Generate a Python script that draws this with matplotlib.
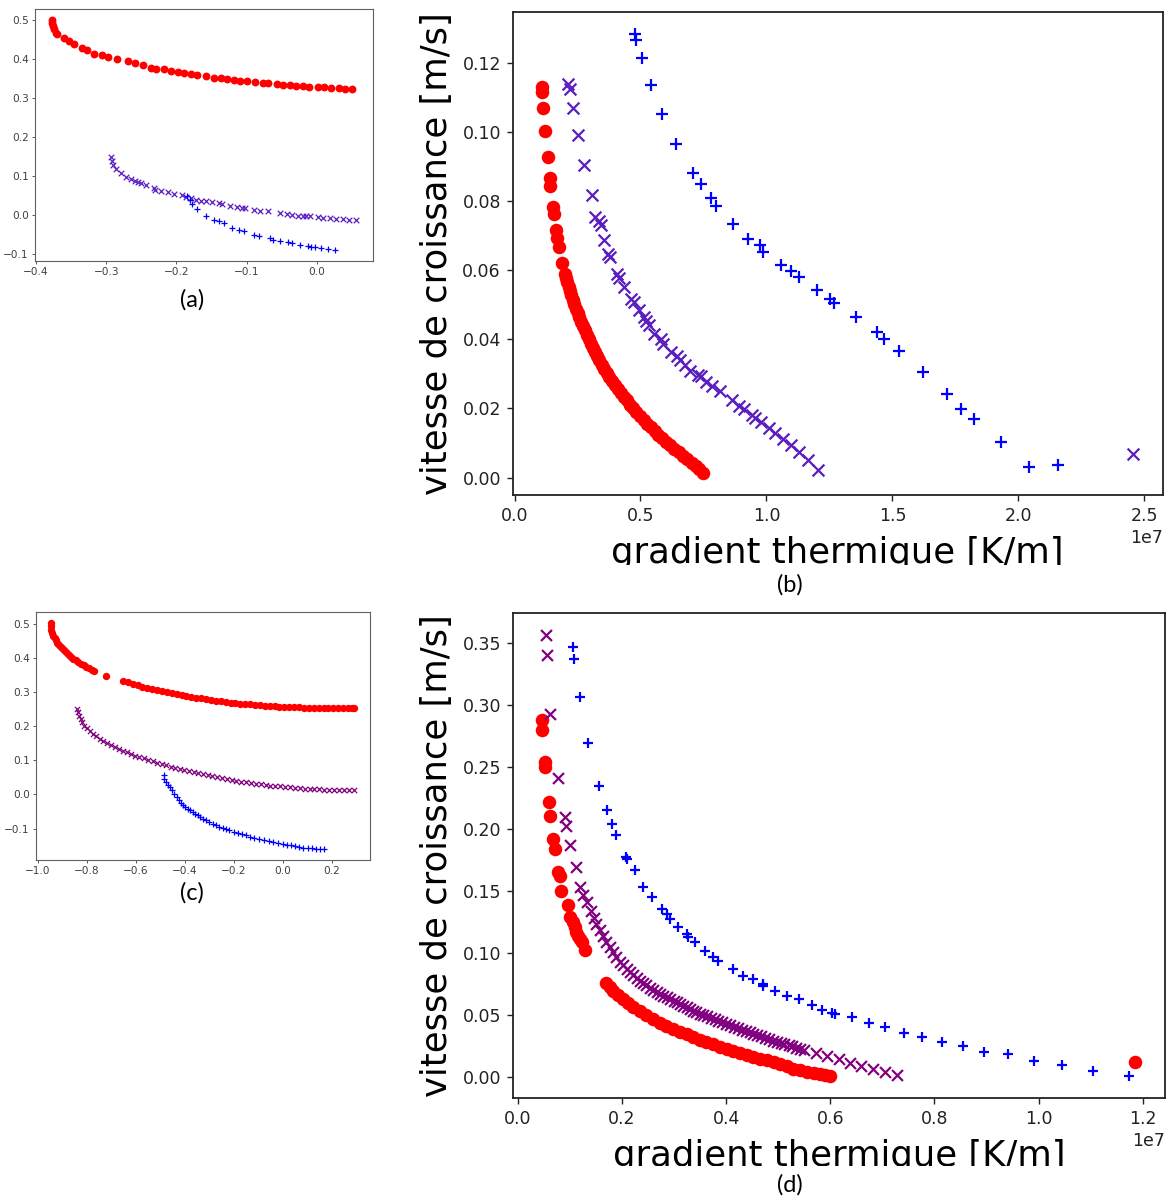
import numpy as np
import matplotlib
matplotlib.use("Agg")
import matplotlib.pyplot as plt
from matplotlib.patches import Rectangle

# ---------------- panel (a) ----------------
a_red_x = [-0.3775, -0.3770, -0.3760, -0.374, -0.3718, -0.3695, -0.360, -0.353, -0.346, -0.334,
           -0.327, -0.318, -0.306, -0.297, -0.285, -0.269, -0.259, -0.247, -0.236, -0.229,
           -0.217, -0.208, -0.198, -0.189, -0.179, -0.170, -0.158, -0.146, -0.137, -0.128,
           -0.118, -0.109, -0.0995, -0.088, -0.076, -0.069, -0.057, -0.048, -0.0385, -0.029,
           -0.0197, -0.0103, 0.0014, 0.0108, 0.020, 0.032, 0.041, 0.0507]
a_red_y = [0.500, 0.494, 0.486, 0.477, 0.469, 0.464, 0.456, 0.447, 0.440, 0.430,
           0.423, 0.415, 0.411, 0.406, 0.400, 0.396, 0.392, 0.385, 0.379, 0.376,
           0.375, 0.370, 0.368, 0.364, 0.362, 0.360, 0.358, 0.353, 0.352, 0.349,
           0.347, 0.345, 0.344, 0.342, 0.340, 0.339, 0.337, 0.335, 0.334, 0.332,
           0.331, 0.330, 0.329, 0.329, 0.328, 0.326, 0.325, 0.325]
a_pur_x = [-0.2935, -0.2916, -0.2902, -0.2855, -0.2784, -0.2714, -0.2643, -0.2596, -0.2549, -0.2502,
           -0.2431, -0.2313, -0.2304, -0.2219, -0.2125, -0.2031, -0.1913, -0.1866, -0.1795, -0.1724,
           -0.1654, -0.1583, -0.1489, -0.1395, -0.1347, -0.1230, -0.1135, -0.1065, -0.1018, -0.0900,
           -0.0806, -0.0688, -0.0523, -0.0429, -0.0358, -0.0264, -0.0193, -0.0146, -0.0099, 0.0019,
           0.0090, 0.0184, 0.0278, 0.0372, 0.0466, 0.0561]
a_pur_y = [0.1488, 0.1385, 0.1300, 0.1189, 0.1078, 0.0993, 0.0933, 0.0891, 0.0848, 0.0823,
           0.0780, 0.0703, 0.0661, 0.0635, 0.0593, 0.0550, 0.0524, 0.0482, 0.0448, 0.0396,
           0.0379, 0.0362, 0.0337, 0.0311, 0.0294, 0.0252, 0.0209, 0.0192, 0.0192, 0.0149,
           0.0124, 0.0107, 0.0056, 0.0038, 0.0021, -0.0004, -0.0004, -0.0021, -0.0004, -0.0047,
           -0.0064, -0.0072, -0.0098, -0.0098, -0.0107, -0.0115]
a_blue_x = [-0.1842, -0.1809, -0.1771, -0.1701, -0.1583, -0.1465, -0.1395, -0.1324, -0.1206, -0.1112,
            -0.1041, -0.0900, -0.0829, -0.0664, -0.0617, -0.0523, -0.0405, -0.0358, -0.0240, -0.0122,
            -0.0075, -0.0028, 0.0067, 0.0161, 0.0255]
a_blue_y = [0.0507, 0.0396, 0.0294, 0.0166, -0.0004, -0.0115, -0.0149, -0.0200, -0.0320, -0.0371,
            -0.0405, -0.0499, -0.0516, -0.0584, -0.0618, -0.0644, -0.0686, -0.0712, -0.0755, -0.0789,
            -0.0797, -0.0814, -0.0831, -0.0857, -0.0874]

# ---------------- panel (b) (x in units of 1e7 K/m) ----------------
b_red_x = [0.110, 0.110, 0.115, 0.121, 0.132, 0.141, 0.142, 0.151, 0.155, 0.163, 0.168, 0.178, 0.190,
           0.200, 0.205, 0.210, 0.215, 0.220, 0.226, 0.232, 0.238, 0.244, 0.250, 0.257, 0.264,
           0.271, 0.278, 0.286, 0.294, 0.302, 0.310, 0.319, 0.328, 0.337, 0.346, 0.356, 0.366,
           0.376, 0.387, 0.398, 0.409, 0.421, 0.433, 0.445, 0.458, 0.471, 0.484, 0.498, 0.512,
           0.526, 0.541, 0.556, 0.571, 0.587, 0.603, 0.619, 0.635, 0.652, 0.669, 0.686, 0.703,
           0.719, 0.734, 0.748]
b_red_y = [0.1131, 0.1117, 0.1071, 0.1002, 0.0928, 0.0868, 0.0845, 0.0784, 0.0762, 0.0717, 0.0693, 0.0666, 0.0622,
           0.0590, 0.0578, 0.0566, 0.0553, 0.0541, 0.0528, 0.0515, 0.0502, 0.0489, 0.0477, 0.0464, 0.0451,
           0.0438, 0.0426, 0.0413, 0.0400, 0.0388, 0.0376, 0.0363, 0.0351, 0.0339, 0.0327, 0.0315, 0.0303,
           0.0291, 0.0280, 0.0268, 0.0257, 0.0245, 0.0234, 0.0223, 0.0211, 0.0200, 0.0189, 0.0178, 0.0167,
           0.0156, 0.0145, 0.0135, 0.0124, 0.0114, 0.0103, 0.0093, 0.0083, 0.0073, 0.0063, 0.0053, 0.0043,
           0.0034, 0.0024, 0.0013]
b_pur_x = [0.212, 0.222, 0.232, 0.252, 0.275, 0.306, 0.321, 0.335, 0.342, 0.354, 0.372, 0.380,
           0.406, 0.415, 0.435, 0.464, 0.474, 0.493, 0.513, 0.522, 0.532, 0.555, 0.581, 0.590,
           0.620, 0.645, 0.658, 0.678, 0.697, 0.727, 0.742, 0.762, 0.785, 0.814, 0.863, 0.892,
           0.911, 0.941, 0.956, 0.979, 1.009, 1.034, 1.067, 1.096, 1.131, 1.164, 1.206, 2.455]
b_pur_y = [0.1139, 0.1124, 0.1071, 0.0992, 0.0906, 0.0817, 0.0754, 0.0742, 0.0730, 0.0688, 0.0648, 0.0638,
           0.0590, 0.0579, 0.0553, 0.0518, 0.0507, 0.0484, 0.0465, 0.0454, 0.0441, 0.0415, 0.0401, 0.0386,
           0.0362, 0.0351, 0.0341, 0.0325, 0.0309, 0.0298, 0.0293, 0.0277, 0.0266, 0.0250, 0.0224, 0.0208,
           0.0197, 0.0181, 0.0171, 0.0160, 0.0144, 0.0128, 0.0112, 0.0093, 0.0075, 0.0051, 0.0022, 0.0068]
b_blue_x = [0.478, 0.482, 0.505, 0.542, 0.587, 0.640, 0.708, 0.740, 0.781, 0.798, 0.866, 0.928,
            0.973, 0.988, 1.056, 1.099, 1.128, 1.200, 1.251, 1.270, 1.356, 1.440, 1.465, 1.527,
            1.621, 1.718, 1.774, 1.823, 1.932, 2.043, 2.156]
b_blue_y = [0.1285, 0.1268, 0.1215, 0.1136, 0.1052, 0.0966, 0.0883, 0.0849, 0.0810, 0.0786, 0.0733, 0.0691,
            0.0672, 0.0654, 0.0616, 0.0597, 0.0581, 0.0542, 0.0518, 0.0505, 0.0465, 0.0420, 0.0401, 0.0367,
            0.0306, 0.0242, 0.0197, 0.0170, 0.0102, 0.0030, 0.0035]

# ---------------- panel (c) ----------------
c_red_x = [-0.946, -0.946, -0.945, -0.941, -0.937, -0.932, -0.927, -0.921, -0.914, -0.907, -0.899, -0.891,
           -0.883, -0.874, -0.864, -0.855, -0.845, -0.835, -0.824, -0.813, -0.802, -0.791, -0.780, -0.769,
           -0.721,
           -0.653, -0.633, -0.613, -0.593, -0.573, -0.553, -0.533, -0.513, -0.493, -0.473, -0.453, -0.433,
           -0.413, -0.393, -0.373, -0.353, -0.333, -0.313, -0.293, -0.273, -0.253, -0.233, -0.213, -0.193,
           -0.173, -0.153, -0.133, -0.113, -0.093, -0.073, -0.053, -0.033, -0.013, 0.007, 0.027, 0.047,
           0.067, 0.087, 0.107, 0.127, 0.147, 0.167, 0.187, 0.207, 0.227, 0.247, 0.267, 0.283, 0.293]
c_red_y = [0.503, 0.494, 0.484, 0.475, 0.467, 0.460, 0.453, 0.446, 0.440, 0.434, 0.427, 0.421,
           0.415, 0.410, 0.404, 0.399, 0.394, 0.389, 0.384, 0.379, 0.375, 0.371, 0.367, 0.364,
           0.347,
           0.334, 0.329, 0.325, 0.321, 0.317, 0.313, 0.310, 0.306, 0.303, 0.300, 0.297, 0.294,
           0.292, 0.289, 0.287, 0.284, 0.282, 0.280, 0.278, 0.276, 0.274, 0.272, 0.270, 0.269,
           0.267, 0.266, 0.265, 0.263, 0.262, 0.261, 0.260, 0.259, 0.258, 0.258, 0.257, 0.256,
           0.256, 0.255, 0.255, 0.254, 0.254, 0.254, 0.253, 0.253, 0.253, 0.253, 0.254, 0.254, 0.254]
c_pur_x = [-0.840, -0.836, -0.831, -0.826, -0.819, -0.810, -0.800, -0.789, -0.776, -0.762, -0.748, -0.733,
           -0.718, -0.702, -0.686, -0.670, -0.653, -0.636, -0.619, -0.602, -0.585, -0.567, -0.549, -0.531,
           -0.513, -0.495, -0.477, -0.458, -0.440, -0.421, -0.402, -0.383, -0.364, -0.345, -0.326, -0.307,
           -0.287, -0.268, -0.248, -0.229, -0.209, -0.189, -0.170, -0.150, -0.130, -0.110, -0.090, -0.070,
           -0.050, -0.030, -0.010, 0.010, 0.030, 0.050, 0.070, 0.090, 0.110, 0.130, 0.150, 0.170,
           0.190, 0.210, 0.230, 0.250, 0.270, 0.292]
c_pur_y = [0.252, 0.242, 0.232, 0.222, 0.212, 0.202, 0.194, 0.186, 0.178, 0.171, 0.164, 0.157,
           0.151, 0.145, 0.139, 0.134, 0.129, 0.124, 0.119, 0.114, 0.110, 0.106, 0.101, 0.097,
           0.093, 0.089, 0.086, 0.082, 0.078, 0.075, 0.071, 0.068, 0.065, 0.062, 0.059, 0.056,
           0.053, 0.050, 0.047, 0.045, 0.042, 0.040, 0.038, 0.036, 0.034, 0.032, 0.030, 0.028,
           0.026, 0.025, 0.024, 0.022, 0.021, 0.020, 0.019, 0.017, 0.016, 0.016, 0.015, 0.014,
           0.014, 0.013, 0.013, 0.013, 0.013, 0.013]
c_blue_x = [-0.483, -0.483, -0.4762, -0.4680, -0.4599, -0.4510, -0.4422, -0.4330, -0.4245, -0.4160,
            -0.4082, -0.3980, -0.3878, -0.3775, -0.3673, -0.3570, -0.3469, -0.3365, -0.3265, -0.3130,
            -0.2993, -0.2857, -0.2721, -0.2585, -0.2449, -0.2313, -0.2177, -0.2007, -0.1837, -0.1667,
            -0.1497, -0.1327, -0.1156, -0.0952, -0.0748, -0.0578, -0.0408, -0.0204, 0.0000, 0.0170,
            0.0340, 0.0510, 0.0680, 0.0850, 0.1020, 0.1190, 0.1361, 0.1531, 0.1701]
c_blue_y = [0.0558, 0.0450, 0.0362, 0.0290, 0.0216, 0.0118, 0.0020, -0.0080, -0.0176, -0.0250,
            -0.0322, -0.0371, -0.0420, -0.0470, -0.0518, -0.0567, -0.0616, -0.0665, -0.0714, -0.0763,
            -0.0812, -0.0860, -0.0909, -0.0944, -0.0978, -0.1017, -0.1056, -0.1095, -0.1134, -0.1168,
            -0.1203, -0.1237, -0.1272, -0.1311, -0.1350, -0.1375, -0.1399, -0.1433, -0.1467, -0.1482,
            -0.1496, -0.1520, -0.1545, -0.1560, -0.1575, -0.1585, -0.1594, -0.1594, -0.1594]

# ---------------- panel (d) (x in units of 1e7 K/m) ----------------
d_red_x = [0.047, 0.047, 0.052, 0.053, 0.059, 0.062, 0.068, 0.071, 0.077, 0.080, 0.0835, 0.0963,
           0.1008, 0.105, 0.109, 0.112, 0.1155, 0.120, 0.124, 0.1284,
           0.169, 0.176, 0.183, 0.192, 0.202, 0.211, 0.221, 0.234, 0.247, 0.260, 0.273, 0.285,
           0.298, 0.311, 0.324, 0.337, 0.350, 0.362, 0.375, 0.388, 0.401, 0.414, 0.427, 0.440,
           0.452, 0.465, 0.478, 0.491, 0.504, 0.517, 0.529, 0.542, 0.555, 0.568, 0.581, 0.590,
           0.600, 1.186]
d_red_y = [0.2877, 0.2799, 0.2538, 0.2500, 0.2217, 0.2107, 0.1918, 0.1840, 0.1651, 0.1620, 0.1500, 0.1390,
           0.1293, 0.1250, 0.1207, 0.1170, 0.1140, 0.1110, 0.1086, 0.1025,
           0.0756, 0.0725, 0.0697, 0.0663, 0.0631, 0.0597, 0.0563, 0.0529, 0.0496, 0.0465, 0.0435, 0.0412,
           0.0389, 0.0366, 0.0343, 0.0322, 0.0301, 0.0282, 0.0263, 0.0245, 0.0228, 0.0212, 0.0196, 0.0178,
           0.0161, 0.0147, 0.0134, 0.0118, 0.0102, 0.0085, 0.0068, 0.0054, 0.0040, 0.0031, 0.0022, 0.0016,
           0.0011, 0.0118]
d_pur_x = [0.0533, 0.0552, 0.0623, 0.0777, 0.090, 0.092, 0.0995, 0.112,
           0.120, 0.126, 0.133, 0.140, 0.146, 0.151, 0.157, 0.163, 0.170, 0.176, 0.183, 0.189,
           0.196, 0.202, 0.209, 0.215, 0.222, 0.228, 0.234, 0.241, 0.247, 0.254, 0.260, 0.267,
           0.273, 0.279, 0.286, 0.292, 0.299, 0.305, 0.311, 0.318, 0.324, 0.331, 0.337, 0.343,
           0.350, 0.356, 0.363, 0.370, 0.378, 0.385, 0.393, 0.400, 0.408, 0.415, 0.423, 0.430,
           0.438, 0.445, 0.452, 0.460, 0.467, 0.475, 0.482, 0.490, 0.497, 0.505, 0.512, 0.520,
           0.527, 0.535, 0.542, 0.550, 0.572, 0.594, 0.616, 0.638, 0.660, 0.682, 0.705, 0.728]
d_pur_y = [0.3562, 0.3400, 0.2931, 0.2414, 0.2097, 0.2028, 0.1871, 0.1692,
           0.1530, 0.1470, 0.1408, 0.1340, 0.1285, 0.1234, 0.1185, 0.1135, 0.1086, 0.1047, 0.1005, 0.0965,
           0.0930, 0.0900, 0.0870, 0.0845, 0.0820, 0.0800, 0.0778, 0.0757, 0.0738, 0.0720, 0.0703, 0.0686,
           0.0670, 0.0657, 0.0644, 0.0630, 0.0616, 0.0602, 0.0589, 0.0576, 0.0563, 0.0549, 0.0536, 0.0524,
           0.0512, 0.0500, 0.0488, 0.0476, 0.0464, 0.0452, 0.0440, 0.0428, 0.0416, 0.0405, 0.0394, 0.0383,
           0.0372, 0.0360, 0.0349, 0.0338, 0.0327, 0.0316, 0.0305, 0.0293, 0.0282, 0.0273, 0.0264, 0.0255,
           0.0246, 0.0237, 0.0228, 0.0219, 0.0193, 0.0168, 0.0142, 0.0116, 0.0090, 0.0063, 0.0038, 0.0014]
d_blue_x = [0.1059, 0.1085, 0.1188, 0.1355, 0.156, 0.171, 0.181, 0.189, 0.208, 0.210, 0.225, 0.2406,
            0.2568, 0.2760, 0.2857, 0.2920, 0.3080, 0.3242, 0.3272, 0.3401, 0.3594, 0.3754, 0.3850, 0.4139,
            0.4331, 0.4524, 0.4716, 0.4716, 0.4941, 0.5167, 0.5390, 0.5648, 0.5840, 0.6033, 0.6096, 0.6418,
            0.6737, 0.7059, 0.741, 0.776, 0.815, 0.855, 0.895, 0.941, 0.991, 1.045, 1.104, 1.173]
d_blue_y = [0.3465, 0.3371, 0.3063, 0.2695, 0.2347, 0.2154, 0.2044, 0.1950, 0.1777, 0.1761, 0.1667, 0.1529,
            0.1448, 0.1355, 0.1315, 0.1274, 0.1207, 0.1154, 0.1126, 0.1086, 0.1019, 0.0965, 0.0939, 0.0872,
            0.0818, 0.0792, 0.0751, 0.0730, 0.0697, 0.0657, 0.0631, 0.0577, 0.0537, 0.0515, 0.0510, 0.0483,
            0.0435, 0.0402, 0.0355, 0.0321, 0.0283, 0.0252, 0.0204, 0.0182, 0.0132, 0.0094, 0.0047, 0.0006]

X_SCALE = 1e7
PURPLE_AB = '#5a1ec0'
PURPLE_CD = '#800080'
XLABEL = 'gradient thermique [K/m]'
YLABEL = 'vitesse de croissance [m/s]'

W, H = 1169, 1200
fig = plt.figure(figsize=(W / 100, H / 100), dpi=100)
fig.patch.set_facecolor('white')


def rect(l, t, r, b):
    return [l / W, 1 - b / H, (r - l) / W, (b - t) / H]


def style_small(ax):
    for sp in ax.spines.values():
        sp.set_color('#606060')
        sp.set_linewidth(0.8)
    ax.tick_params(labelsize=7.6, length=2.5, width=0.6, colors='#404040', pad=2)


def style_big(ax):
    for sp in ax.spines.values():
        sp.set_color('#222222')
        sp.set_linewidth(1.3)
    ax.tick_params(labelsize=12.5, length=4.5, width=1.0, colors='#222222', pad=4)
    ax.xaxis.get_offset_text().set_fontsize(12.5)


# (a)
axa = fig.add_axes(rect(35, 9, 372.5, 261))
axa.scatter(a_red_x, a_red_y, s=32, c='red', marker='o', linewidths=0)
axa.scatter(a_pur_x, a_pur_y, s=16, c=PURPLE_AB, marker='x', linewidths=0.9)
axa.scatter(a_blue_x, a_blue_y, s=16, c='blue', marker='+', linewidths=0.9)
axa.set_xlim(-0.4015, 0.0795)
style_small(axa)

# (c)
axc = fig.add_axes(rect(36, 612, 369.5, 860))
axc.scatter(c_red_x, c_red_y, s=28, c='red', marker='o', linewidths=0)
axc.scatter(c_pur_x, c_pur_y, s=14, c=PURPLE_CD, marker='x', linewidths=0.9)
axc.scatter(c_blue_x, c_blue_y, s=14, c='blue', marker='+', linewidths=0.9)
style_small(axc)

# (b)
axb = fig.add_axes(rect(512.7, 11.7, 1162.5, 495))
axb.scatter(np.array(b_red_x) * X_SCALE, b_red_y, s=95, c='red', marker='o', linewidths=0)
axb.scatter(np.array(b_pur_x) * X_SCALE, b_pur_y, s=72, c=PURPLE_AB, marker='x', linewidths=1.6)
axb.scatter(np.array(b_blue_x) * X_SCALE, b_blue_y, s=65, c='blue', marker='+', linewidths=1.6)
style_big(axb)
axb.set_xlabel(XLABEL, fontsize=25.5, labelpad=8)
axb.set_ylabel(YLABEL, fontsize=25.5, labelpad=6)

# (d)
axd = fig.add_axes(rect(512.7, 613.3, 1165, 1098.3))
axd.scatter(np.array(d_red_x) * X_SCALE, d_red_y, s=95, c='red', marker='o', linewidths=0)
axd.scatter(np.array(d_pur_x) * X_SCALE, d_pur_y, s=62, c=PURPLE_CD, marker='x', linewidths=1.6)
axd.scatter(np.array(d_blue_x) * X_SCALE, d_blue_y, s=62, c='blue', marker='+', linewidths=1.6)
style_big(axd)
axd.set_xlabel(XLABEL, fontsize=25.5, labelpad=8)
axd.set_ylabel(YLABEL, fontsize=25.5, labelpad=6)

# white bands that crop the bottom of the big x-labels, as in the reference
for top, bot in [(565, 600), (1166, 1200)]:
    fig.add_artist(Rectangle((585 / W, 1 - bot / H), 510 / W, (bot - top) / H,
                             transform=fig.transFigure, facecolor='white',
                             edgecolor='none', zorder=5))

# panel captions
for lab, xc, yc in [('(a)', 192, 300), ('(b)', 790, 585), ('(c)', 192, 893), ('(d)', 790, 1185)]:
    fig.text(xc / W, 1 - yc / H, lab, ha='center', va='center', fontsize=17,
             family=['Lato', 'DejaVu Sans'], zorder=6)

fig.savefig('out.png', dpi=100, facecolor='white')
